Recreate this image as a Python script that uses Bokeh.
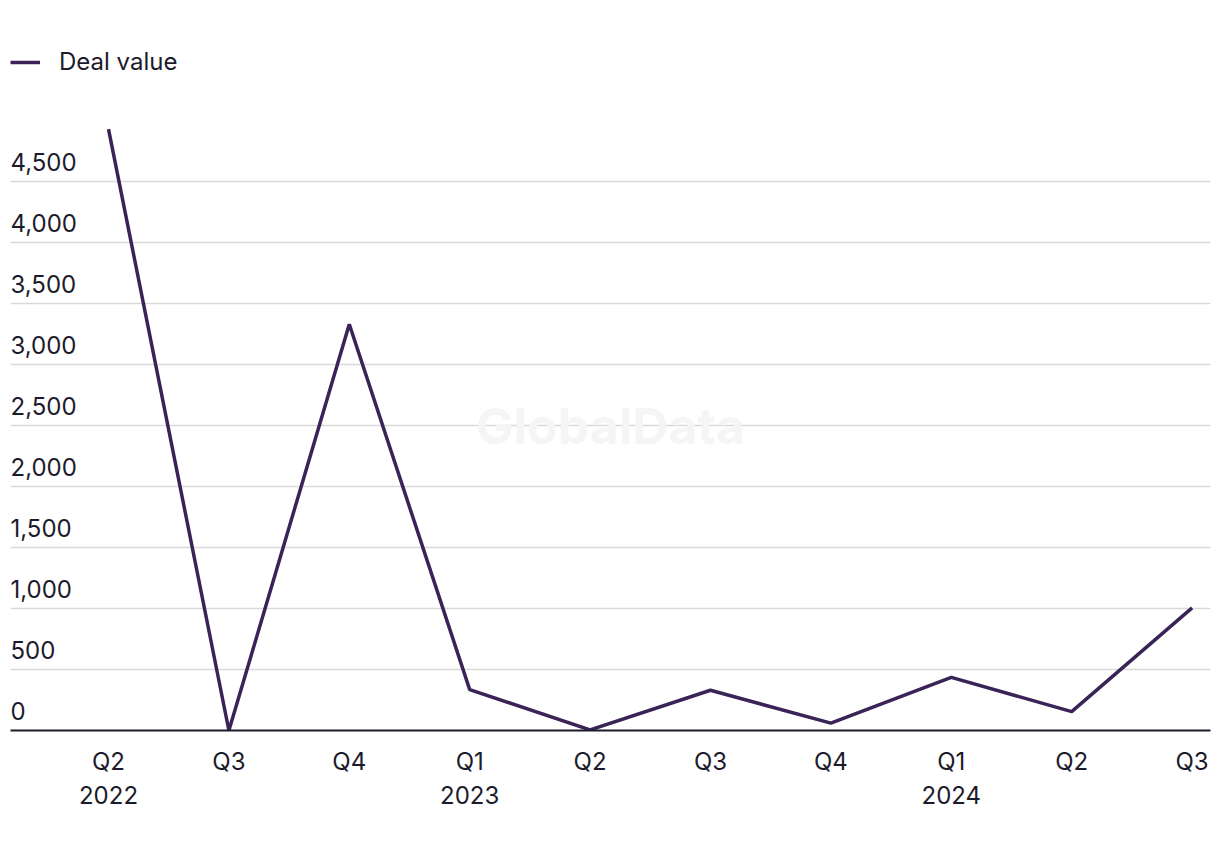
from bokeh.plotting import figure
from bokeh.models import (ColumnDataSource, FixedTicker, Legend, LegendItem, Label, Range1d)
from bokeh.core.properties import value
from bokeh.embed import file_html
from bokeh.resources import INLINE

quarters = ["Q2\n2022", "Q3", "Q4", "Q1\n2023", "Q2", "Q3", "Q4", "Q1\n2024", "Q2", "Q3"]
deal_value = [4930, 0, 3330, 335, 5, 330, 60, 435, 155, 1005]
y_ticks = [0, 500, 1000, 1500, 2000, 2500, 3000, 3500, 4000, 4500]
y_tick_labels = [f"{v:,}" for v in y_ticks]

FONT = "Inter"
TEXT = "#1c1b2b"
LINE = "#3a2457"

xs = list(range(len(quarters)))
src = ColumnDataSource(dict(x=xs, y=deal_value))

p = figure(width=1212, height=834, output_backend="svg", toolbar_location=None,
           x_range=Range1d(-0.814, 9.153), y_range=Range1d(0, 5820),
           min_border_left=10, min_border_right=2, min_border_top=20, min_border_bottom=104)
p.outline_line_color = None
p.background_fill_color = "white"
p.border_fill_color = "white"

# watermark
p.add_layout(Label(x=600, y=305, x_units="screen", y_units="screen", text="GlobalData",
                   text_font=FONT, text_font_style="bold", text_font_size="50px",
                   text_color="#f5f5f5", text_align="center", text_baseline="middle"))

# grid
p.xgrid.grid_line_color = None
p.ygrid.ticker = FixedTicker(ticks=y_ticks[1:])
p.ygrid.grid_line_color = "#d9d9d9"
p.ygrid.grid_line_width = 1.5

r = p.line("x", "y", source=src, line_color=LINE, line_width=3.5)

# y labels inside plot
ysrc = ColumnDataSource(dict(x=[-0.814] * len(y_ticks), y=y_ticks, t=y_tick_labels))
p.text("x", "y", text="t", source=ysrc, text_font=value(FONT), text_font_size="24px",
       text_color=TEXT, text_align="left", text_baseline="alphabetic", y_offset=-20)

p.yaxis.visible = False
xa = p.xaxis[0]
xa.ticker = FixedTicker(ticks=xs)
xa.major_label_overrides = {i: q for i, q in enumerate(quarters)}
xa.major_label_text_font = FONT
xa.major_label_text_font_size = "24px"
xa.major_label_text_color = TEXT
xa.major_label_standoff = 10
xa.major_tick_line_color = None
xa.minor_tick_line_color = None
xa.axis_line_color = TEXT
xa.axis_line_width = 2

legend = Legend(items=[LegendItem(label="Deal value", renderers=[r])],
                location=(0, 654), glyph_width=30, glyph_height=20, label_standoff=19,
                padding=0, margin=0, border_line_color=None, background_fill_alpha=0,
                label_text_font=FONT, label_text_font_size="24px", label_text_color=TEXT)
p.add_layout(legend)

open("out.html", "w").write(file_html(p, INLINE))
